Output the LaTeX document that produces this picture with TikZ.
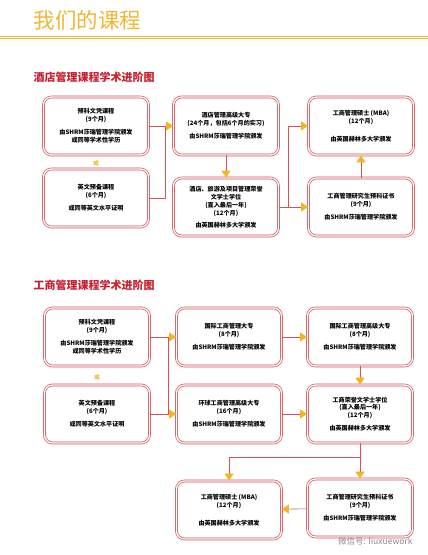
\documentclass[tikz,border=0pt]{standalone}
\usepackage{fontspec}
\setmainfont{Noto Sans CJK SC}
\usetikzlibrary{arrows.meta}
\definecolor{boxred}{RGB}{214,82,88}
\definecolor{arrgold}{RGB}{246,180,36}
\definecolor{titlegold}{RGB}{240,182,52}
\definecolor{headred}{RGB}{200,32,46}
\begin{document}
\begin{tikzpicture}[x=1pt, y=-1pt, >={Triangle[length=7pt,width=9pt,color=arrgold]},
  card/.style={draw=boxred, double=white, double distance=1.3pt, line width=0.7pt, rounded corners=8pt,
    fill=white, align=center, minimum width=105pt, minimum height=58pt, inner sep=2pt,
    font=\fontsize{6.1}{7.9}\selectfont\bfseries},
  link/.style={draw=boxred, line width=0.6pt},
  ortag/.style={text=arrgold, font=\fontsize{5.5}{6}\selectfont\bfseries},
  head/.style={anchor=west, text=headred, font=\fontsize{11}{13}\selectfont\bfseries}]
\useasboundingbox (0,0) rectangle (428,555);
\node[anchor=west, text=titlegold, font=\fontsize{21.5}{24}\selectfont] (title) at (30,20) {我们的课程};
\draw[titlegold, double=white, double distance=1.6pt, line width=0.7pt] (0,37.5) -- (428,37.5);
\node[head] (hotel) at (30,77) {酒店管理课程学术进阶图};
\node[card] (prep) at (96,126) {预科文凭课程\\(9个月)\\[5pt]由SHRM莎瑞管理学院颁发\\或同等学术性学历};
\node[ortag] (or1) at (96,163) {或};
\node[card] (engl) at (96,198) {英文预备课程\\(6个月)\\[5pt]或同等英文水平证明};
\node[card] (hdip) at (226,126) {酒店管理高级大专\\(24个月，包括6个月的实习)\\[5pt]由SHRM莎瑞管理学院颁发};
\node[card] (hons) at (226,207) {酒店、旅游及项目管理荣誉\\文学士学位\\(直入最后一年)\\(12个月)\\[4pt]由英国赫林多大学颁发};
\node[card] (mba) at (361,126) {工商管理硕士 (MBA)\\(12个月)\\[10pt]由英国赫林多大学颁发};
\node[card] (pgd) at (361,207) {工商管理研究生预科证书\\(9个月)\\[5pt]由SHRM莎瑞管理学院颁发};
\coordinate (j1) at (165,126);
\coordinate (j2) at (288,207);
\draw[link,->] (prep) -- (hdip); \draw[link] (engl) -| (j1);
\draw[link,->] (hdip) -- (hons); \draw[link,->] (hons) -- (pgd);
\draw[link,->] (j2) |- (mba); \draw[link,->] (pgd) -- (mba);
\node[head] (biz) at (30,285) {工商管理课程学术进阶图};
\node[card] (bprep) at (97,337) {预科文凭课程\\(9个月)\\[5pt]由SHRM莎瑞管理学院颁发\\或同等学术性学历};
\node[ortag] (or2) at (97,377) {或};
\node[card] (bengl) at (97,414) {英文预备课程\\(6个月)\\[5pt]或同等英文水平证明};
\node[card] (bdip) at (229,337) {国际工商管理大专\\(8个月)\\[5pt]由SHRM莎瑞管理学院颁发};
\node[card] (bhdip) at (229,414) {环球工商管理高级大专\\(16个月)\\[5pt]由SHRM莎瑞管理学院颁发};
\node[card] (bhnd) at (360,337) {国际工商管理高级大专\\(8个月)\\[5pt]由SHRM莎瑞管理学院颁发};
\node[card] (bhons) at (360,414) {工商荣誉文学士学位\\(直入最后一年)\\(12个月)\\[5pt]由英国赫林多大学颁发};
\node[card] (bmba) at (229,510) {工商管理硕士 (MBA)\\(12个月)\\[10pt]由英国赫林多大学颁发};
\node[card] (bpgd) at (360,508) {工商管理研究生预科证书\\(9个月)\\[5pt]由SHRM莎瑞管理学院颁发};
\coordinate (j3) at (168,337);
\coordinate (j4) at (168,414);
\coordinate (j5) at (360,457);
\draw[link,->] (bprep) -- (bdip); \draw[link,->] (bengl) -- (bhdip); \draw[link] (j3) -- (j4);
\draw[link,->] (bdip) -- (bhnd); \draw[link,->] (bhdip) -- (bhons); \draw[link,->] (bhnd) -- (bhons);
\draw[link] (bhons) -- (j5); \draw[link,->] (j5) -- (bpgd); \draw[link,->] (j5) -| (bmba);
\draw[link,->] (bpgd) -- (bmba);
\node[anchor=east, text=black!45, font=\fontsize{8.5}{10}\selectfont] (mark) at (416,541) {微信号: liuxuework};
\end{tikzpicture}
\end{document}
